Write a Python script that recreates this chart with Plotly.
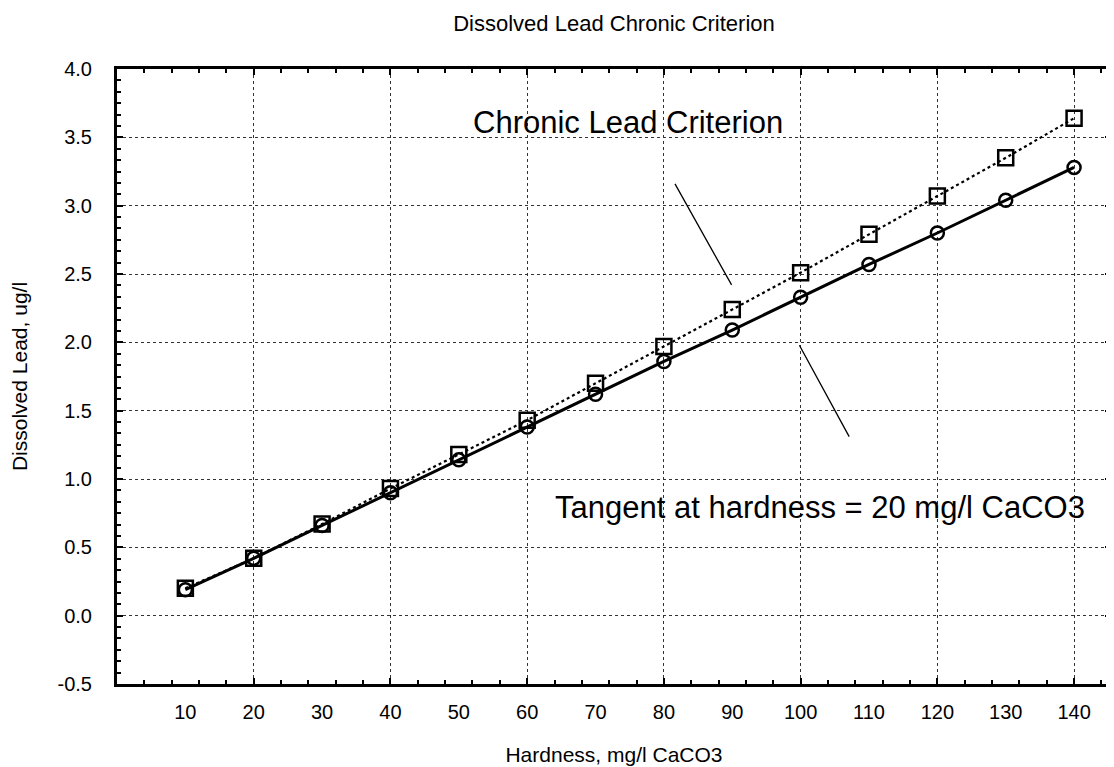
import plotly.graph_objects as go

# ---- data ----
hardness = [10, 20, 30, 40, 50, 60, 70, 80, 90, 100, 110, 120, 130, 140]
criterion = [0.20, 0.42, 0.67, 0.93, 1.18, 1.43, 1.70, 1.97, 2.24, 2.51, 2.79, 3.07, 3.35, 3.64]
tangent = [0.19, 0.42, 0.66, 0.90, 1.14, 1.38, 1.62, 1.86, 2.09, 2.33, 2.57, 2.80, 3.04, 3.28]
x_tick_labels = ["10", "20", "30", "40", "50", "60", "70", "80", "90", "100", "110", "120", "130", "140"]
y_tick_values = [-0.5, 0.0, 0.5, 1.0, 1.5, 2.0, 2.5, 3.0, 3.5, 4.0]
y_tick_labels = ["-0.5", "0.0", "0.5", "1.0", "1.5", "2.0", "2.5", "3.0", "3.5", "4.0"]

FONT = "Liberation Sans, Arial, Helvetica, sans-serif"
GRID = dict(showgrid=True, gridcolor="#333333", griddash="dot", gridwidth=1)

W, H = 1106, 759  # page body has an 8px margin

fig = go.Figure()
fig.add_trace(go.Scatter(
    x=hardness, y=tangent, mode="lines+markers", xaxis="x",
    name="Tangent at hardness = 20 mg/l CaCO3",
    line=dict(color="black", width=3),
    marker=dict(symbol="circle-open", size=13, color="black", line=dict(width=2.5)),
))
fig.add_trace(go.Scatter(
    x=hardness, y=criterion, mode="lines+markers", xaxis="x2",
    name="Chronic Lead Criterion",
    line=dict(color="black", width=2.2, dash="dot"),
    marker=dict(symbol="square-open", size=15, color="black", line=dict(width=2.5)),
))

fig.update_layout(
    width=W, height=H,
    margin=dict(l=109, r=0, t=61, b=83),
    paper_bgcolor="white", plot_bgcolor="white",
    showlegend=False,
    font=dict(family=FONT, color="black"),
    title=dict(text="Dissolved Lead Chronic Criterion", font=dict(size=22, family=FONT),
               x=0.5, xref="paper", xanchor="center", y=1 - 15 / H, yanchor="middle"),
    xaxis=dict(
        range=[0, 145.4], tickmode="array", tickvals=hardness, ticktext=x_tick_labels,
        ticks="", showgrid=False, zeroline=False,
        showline=True, linewidth=3, linecolor="black", mirror=True,
        tickfont=dict(size=20), ticklabelstandoff=8,
        title=dict(text="Hardness, mg/l CaCO3", font=dict(size=21), standoff=26),
    ),
    xaxis2=dict(
        overlaying="x", matches="x", anchor="y", side="bottom",
        tickmode="linear", tick0=0, dtick=20, showticklabels=False,
        ticks="inside", ticklen=6, tickwidth=2, tickcolor="black",
        minor=dict(dtick=4, tick0=0, ticks="inside", ticklen=4, tickwidth=2, tickcolor="black", showgrid=False),
        zeroline=False, showline=True, linewidth=3, linecolor="black", mirror="ticks",
        **GRID,
    ),
    yaxis=dict(
        range=[-0.5, 4.0], tickmode="array", tickvals=y_tick_values, ticktext=y_tick_labels,
        ticks="inside", ticklen=6, tickwidth=2, tickcolor="black",
        minor=dict(dtick=0.5 / 6, tick0=0, ticks="inside", ticklen=4, tickwidth=2, tickcolor="black", showgrid=False),
        zeroline=False, showline=True, linewidth=3, linecolor="black", mirror="ticks",
        tickfont=dict(size=20), ticklabelstandoff=18,
        title=dict(text="Dissolved Lead, ug/l", font=dict(size=21), standoff=26),
        **GRID,
    ),
)

fig.add_annotation(x=74.7, y=3.605, xref="x", yref="y", text="Chronic Lead Criterion",
                   showarrow=False, font=dict(size=31, family=FONT))
fig.add_annotation(x=102.9, y=0.79, xref="x", yref="y", text="Tangent at hardness = 20 mg/l CaCO3",
                   showarrow=False, font=dict(size=31, family=FONT))
fig.add_annotation(x=89.9, y=2.42, ax=81.5, ay=3.17, xref="x", yref="y", axref="x", ayref="y",
                   text="", showarrow=True, arrowhead=0, arrowwidth=1.3, arrowcolor="black")
fig.add_annotation(x=107.1, y=1.31, ax=99.7, ay=1.99, xref="x", yref="y", axref="x", ayref="y",
                   text="", showarrow=True, arrowhead=0, arrowwidth=1.3, arrowcolor="black")

fig.write_html("out.html")
